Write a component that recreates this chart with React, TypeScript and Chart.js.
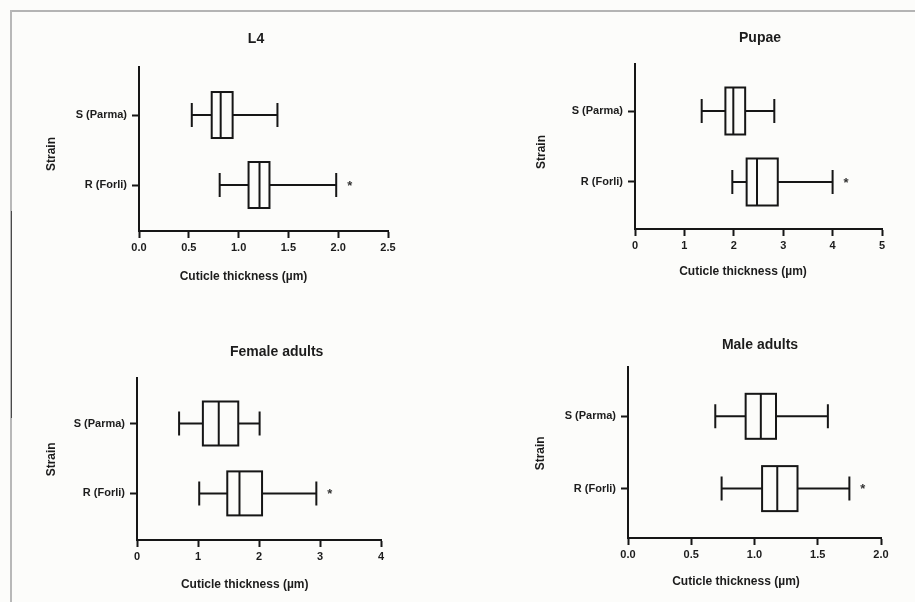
import React, { useEffect, useRef } from "react";
import { Chart, registerables } from "chart.js";

Chart.register(...registerables);

// ---------- data ----------
const strains = ["S (Parma)", "R (Forli)"];
const xAxisTitle = "Cuticle thickness (µm)";
const yAxisTitle = "Strain";
const significant = [false, true];

// [min, Q1, median, Q3, max]
const l4Parma = [0.53, 0.73, 0.82, 0.94, 1.39];
const l4Forli = [0.81, 1.1, 1.21, 1.31, 1.98];
const pupaeParma = [1.35, 1.83, 1.99, 2.23, 2.82];
const pupaeForli = [1.97, 2.26, 2.47, 2.89, 4.0];
const femaleParma = [0.69, 1.08, 1.34, 1.66, 2.01];
const femaleForli = [1.02, 1.48, 1.68, 2.05, 2.94];
const maleParma = [0.69, 0.93, 1.05, 1.17, 1.58];
const maleForli = [0.74, 1.06, 1.18, 1.34, 1.75];

const l4Ticks = [0, 0.5, 1, 1.5, 2, 2.5];
const l4TickLabels = ["0.0", "0.5", "1.0", "1.5", "2.0", "2.5"];
const pupaeTicks = [0, 1, 2, 3, 4, 5];
const pupaeTickLabels = ["0", "1", "2", "3", "4", "5"];
const femaleTicks = [0, 1, 2, 3, 4];
const femaleTickLabels = ["0", "1", "2", "3", "4"];
const maleTicks = [0, 0.5, 1, 1.5, 2];
const maleTickLabels = ["0.0", "0.5", "1.0", "1.5", "2.0"];

// ---------- layout / style ----------
const W = 915;
const H = 602;
const YW = 100;
const XH = 50;
const INK = "#161616";
const BG = "#fcfcfa";
const FONT = "'Liberation Sans', Arial, Helvetica, sans-serif";

const panels = [
  {
    title: "L4", rows: [l4Parma, l4Forli], ticks: l4Ticks, tickLabels: l4TickLabels,
    area: { left: 139, top: 67, right: 388, bottom: 231 }, yMin: -0.686, yMax: 1.657,
    titlePos: [256, 39], strainPos: [52, 154], xTitlePos: [243.5, 277],
    boxH: 46, capH: 24,
  },
  {
    title: "Pupae", rows: [pupaeParma, pupaeForli], ticks: pupaeTicks, tickLabels: pupaeTickLabels,
    area: { left: 635, top: 64, right: 882, bottom: 229 }, yMin: -0.662, yMax: 1.662,
    titlePos: [760, 38], strainPos: [541.5, 152], xTitlePos: [743, 272],
    boxH: 47, capH: 24,
  },
  {
    title: "Female adults", rows: [femaleParma, femaleForli], ticks: femaleTicks, tickLabels: femaleTickLabels,
    area: { left: 137, top: 378, right: 381, bottom: 540 }, yMin: -0.651, yMax: 1.667,
    titlePos: [276.7, 351.7], strainPos: [51.7, 459.3], xTitlePos: [244.7, 585],
    boxH: 44, capH: 24,
  },
  {
    title: "Male adults", rows: [maleParma, maleForli], ticks: maleTicks, tickLabels: maleTickLabels,
    area: { left: 628, top: 367, right: 881, bottom: 538 }, yMin: -0.682, yMax: 1.683,
    titlePos: [760, 345], strainPos: [541, 453.3], xTitlePos: [736, 581.7],
    boxH: 45, capH: 24,
  },
];

const boxPlugin = {
  id: "boxes",
  afterDatasetsDraw(chart: any, _args: any, opts: any) {
    const { ctx } = chart;
    const xs = chart.scales.x;
    const ys = chart.scales.y;
    ctx.save();
    ctx.lineWidth = 2;
    ctx.strokeStyle = INK;
    ctx.lineCap = "butt";
    (opts.rows as number[][]).forEach((r, i) => {
      const cy = ys.getPixelForValue(i);
      const [mn, q1, md, q3, mx] = r.map((v) => xs.getPixelForValue(v));
      const h = opts.boxH / 2;
      const c = opts.capH / 2;
      ctx.beginPath();
      ctx.moveTo(mn, cy);
      ctx.lineTo(q1, cy);
      ctx.moveTo(q3, cy);
      ctx.lineTo(mx, cy);
      ctx.moveTo(mn, cy - c);
      ctx.lineTo(mn, cy + c);
      ctx.moveTo(mx, cy - c);
      ctx.lineTo(mx, cy + c);
      ctx.stroke();
      ctx.fillStyle = BG;
      ctx.fillRect(q1, cy - h, q3 - q1, 2 * h);
      ctx.strokeRect(q1, cy - h, q3 - q1, 2 * h);
      ctx.beginPath();
      ctx.moveTo(md, cy - h);
      ctx.lineTo(md, cy + h);
      ctx.stroke();
      if (significant[i]) {
        ctx.fillStyle = "#333";
        ctx.font = `bold 13px ${FONT}`;
        ctx.textAlign = "center";
        ctx.textBaseline = "middle";
        ctx.fillText("*", mx + 13.5, cy + 1);
      }
    });
    ctx.restore();
  },
};

const textPlugin = {
  id: "panelText",
  afterDraw(chart: any, _args: any, opts: any) {
    const { ctx } = chart;
    ctx.save();
    ctx.fillStyle = "#1c1c1c";
    ctx.textAlign = "center";
    ctx.textBaseline = "middle";
    ctx.font = `bold 14px ${FONT}`;
    ctx.fillText(opts.title, opts.titlePos[0], opts.titlePos[1]);
    ctx.font = `bold 12px ${FONT}`;
    ctx.fillText(xAxisTitle, opts.xTitlePos[0], opts.xTitlePos[1]);
    ctx.translate(opts.strainPos[0], opts.strainPos[1]);
    ctx.rotate(-Math.PI / 2);
    ctx.fillText(yAxisTitle, 0, 0);
    ctx.restore();
  },
};

function Panel({ p }: { p: (typeof panels)[number] }) {
  const ref = useRef<HTMLCanvasElement | null>(null);
  useEffect(() => {
    if (!ref.current) return;
    const gridOpts = {
      drawOnChartArea: false,
      drawTicks: true,
      tickLength: 7,
      tickWidth: 2,
      tickColor: INK,
    };
    const chart = new Chart(ref.current, {
      type: "scatter",
      data: {
        datasets: [
          {
            data: p.rows.map((r, i) => ({ x: r[2], y: i })),
            pointRadius: 0,
            showLine: false,
          },
        ],
      },
      options: {
        responsive: false,
        animation: false,
        devicePixelRatio: 1,
        events: [],
        layout: {
          padding: {
            left: p.area.left - YW,
            top: p.area.top,
            right: W - p.area.right,
            bottom: H - p.area.bottom - XH,
          },
        },
        plugins: {
          legend: { display: false },
          tooltip: { enabled: false },
          title: { display: false },
          boxes: { rows: p.rows, boxH: p.boxH, capH: p.capH },
          panelText: {
            title: p.title,
            titlePos: p.titlePos,
            strainPos: p.strainPos,
            xTitlePos: p.xTitlePos,
          },
        } as any,
        scales: {
          x: {
            type: "linear",
            min: 0,
            max: p.ticks[p.ticks.length - 1],
            afterBuildTicks: (s: any) => {
              s.ticks = p.ticks.map((v) => ({ value: v }));
            },
            afterFit: (s: any) => {
              s.height = XH;
            },
            ticks: {
              callback: (_v: any, i: number) => p.tickLabels[i],
              font: { family: FONT, size: 11, weight: "bold" },
              color: "#1c1c1c",
              padding: 3,
              autoSkip: false,
              maxRotation: 0,
            },
            grid: gridOpts,
            border: { display: true, color: INK, width: 2 },
          },
          y: {
            type: "linear",
            reverse: true,
            min: p.yMin,
            max: p.yMax,
            afterBuildTicks: (s: any) => {
              s.ticks = strains.map((_s, i) => ({ value: i }));
            },
            afterFit: (s: any) => {
              s.width = YW;
            },
            ticks: {
              callback: (v: any) => strains[v as number],
              font: { family: FONT, size: 11, weight: "bold" },
              color: "#1c1c1c",
              padding: 5,
              autoSkip: false,
            },
            grid: gridOpts,
            border: { display: true, color: INK, width: 2 },
          },
        } as any,
      },
      plugins: [boxPlugin, textPlugin],
    } as any);
    return () => chart.destroy();
  }, [p]);
  return (
    <canvas
      ref={ref}
      width={W}
      height={H}
      style={{ position: "absolute", left: 0, top: 0, width: W, height: H }}
    />
  );
}

export default function App() {
  return (
    <div
      style={{
        position: "absolute",
        left: 0,
        top: 0,
        width: W,
        height: H,
        background: BG,
        overflow: "hidden",
      }}
    >
      <div
        style={{
          position: "absolute",
          left: 10,
          top: 10,
          width: W - 10,
          height: 2,
          background: "#b4b4b4",
        }}
      />
      <div
        style={{
          position: "absolute",
          left: 10,
          top: 10,
          width: 2,
          height: H - 10,
          background: "#b8b8b8",
        }}
      />
      <div
        style={{
          position: "absolute",
          left: 11,
          top: 211,
          width: 1,
          height: 207,
          background: "#4a4a4a",
        }}
      />
      {panels.map((p) => (
        <Panel key={p.title} p={p} />
      ))}
    </div>
  );
}
